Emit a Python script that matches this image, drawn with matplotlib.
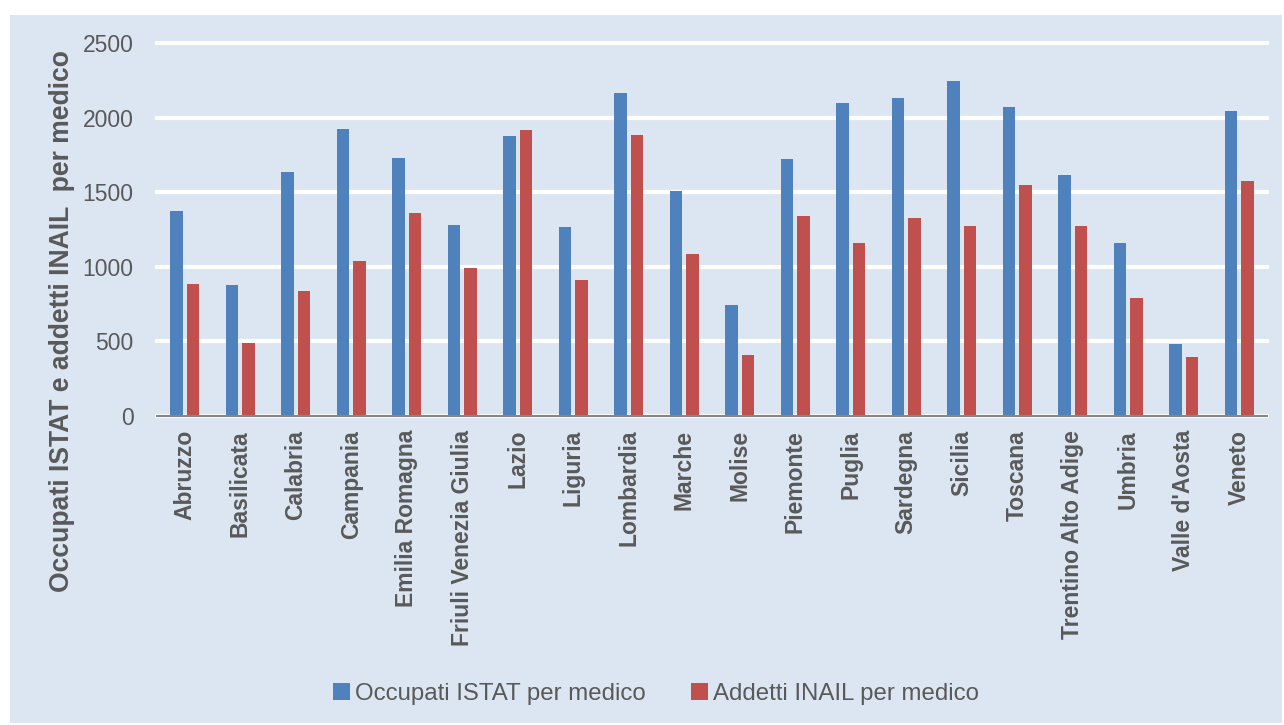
import matplotlib
matplotlib.use("Agg")
import matplotlib.pyplot as plt
from matplotlib.patches import Rectangle
import numpy as np

regions = ["Abruzzo", "Basilicata", "Calabria", "Campania", "Emilia Romagna",
           "Friuli Venezia Giulia", "Lazio", "Liguria", "Lombardia", "Marche",
           "Molise", "Piemonte", "Puglia", "Sardegna", "Sicilia", "Toscana",
           "Trentino Alto Adige", "Umbria", "Valle d'Aosta", "Veneto"]
occupati_istat = [1375, 879, 1637, 1925, 1731, 1281, 1878, 1268, 2167, 1509,
                  745, 1724, 2100, 2133, 2247, 2073, 1617, 1161, 483, 2046]
addetti_inail = [885, 490, 839, 1040, 1362, 993, 1919, 912, 1885, 1087,
                 409, 1342, 1161, 1328, 1275, 1550, 1275, 792, 396, 1576]
y_ticks = [0, 500, 1000, 1500, 2000, 2500]
series_names = ["Occupati ISTAT per medico", "Addetti INAIL per medico"]

plt.rcParams['font.family'] = ['Liberation Sans', 'DejaVu Sans']

W, H = 1284, 725
fig = plt.figure(figsize=(W / 100, H / 100), dpi=100)
fig.patch.set_facecolor('white')
bg = '#DCE6F2'
fig.patches.append(Rectangle((10 / W, 2 / H), (1282 - 10) / W, (723 - 15) / H,
                             transform=fig.transFigure, facecolor=bg,
                             edgecolor='none', zorder=-5))

left, right, top, bottom = 157, 1267, 43.3, 416
ax = fig.add_axes([left / W, 1 - bottom / H, (right - left) / W, (bottom - top) / H])
ax.set_zorder(2)
ax.patch.set_alpha(0)

x = np.arange(len(regions))
bw = 0.225
off = 0.145
ax.bar(x - off, occupati_istat, width=bw, color='#4F81BD', label=series_names[0], zorder=2)
ax.bar(x + off, addetti_inail, width=bw, color='#C0504D', label=series_names[1], zorder=2)

ax.set_xlim(-0.5, len(regions) - 0.5)
ax.set_ylim(0, 2500)
ax.set_yticks(y_ticks)
ax.set_yticklabels([str(v) for v in y_ticks])
ax.set_xticks(x)
ax.set_xticklabels(regions, rotation=90, fontweight='bold')

text_color = '#595959'
ax.tick_params(axis='y', length=0, pad=17, labelsize=16.5, labelcolor=text_color)
ax.tick_params(axis='x', length=0, pad=10, labelsize=16.5, labelcolor=text_color)

ax.set_axisbelow(True)
ax.yaxis.grid(True, color='white', linewidth=3)
for gl in ax.yaxis.get_gridlines():
    gl.set_clip_on(False)
ax.xaxis.grid(False)
for s in ['top', 'right', 'left']:
    ax.spines[s].set_visible(False)
ax.spines['bottom'].set_color('#868686')
ax.spines['bottom'].set_linewidth(1.5)
ax.spines['bottom'].set_zorder(3)

fig.text(62 / W, 1 - 321.5 / H, "Occupati ISTAT e addetti INAIL  per medico",
         rotation=90, ha='center', va='center', fontsize=19.1, fontweight='bold',
         color=text_color)

fig.legend(loc='center', bbox_to_anchor=(656 / W, 1 - 694 / H), ncol=2,
           frameon=False, fontsize=17.3, labelcolor=text_color,
           handlelength=0.7, handleheight=0.7, handletextpad=0.2,
           columnspacing=1.9)

fig.savefig("out.png", dpi=100, facecolor='white')
